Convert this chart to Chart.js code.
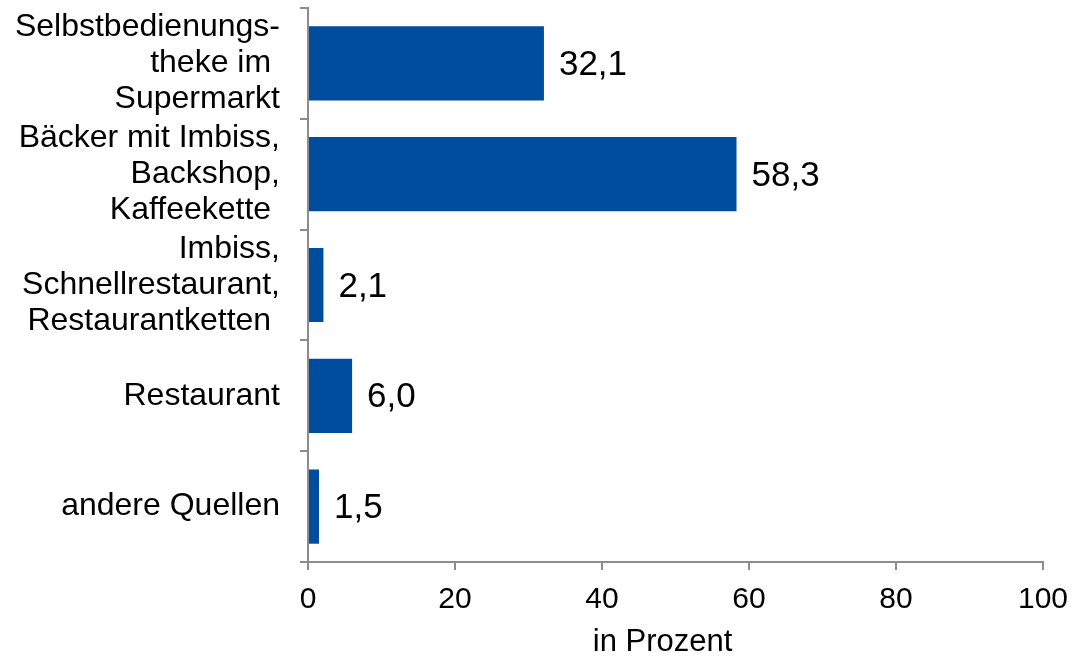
<!DOCTYPE html>
<html>
<head>
<meta charset="utf-8">
<script src="https://cdn.jsdelivr.net/npm/chart.js@4/dist/chart.umd.min.js"></script>
<style>
  html, body { margin: 0; padding: 0; background: #fff; }
  #wrap { width: 1087px; height: 656px; }
</style>
</head>
<body>
<div id="wrap"><canvas id="bezugsquellen_chart"></canvas></div>
<script>
// categories (multi-line labels) and shares in percent
const categories = [
  ['Selbstbedienungs-', 'theke im ', 'Supermarkt'],
  ['Bäcker mit Imbiss,', 'Backshop,', 'Kaffeekette '],
  ['Imbiss,', 'Schnellrestaurant,', 'Restaurantketten '],
  'Restaurant',
  'andere Quellen'
];
const anteil_prozent = [32.1, 58.3, 2.1, 6.0, 1.5];
const x_ticks = [0, 20, 40, 60, 80, 100];

const bar_color = '#004c9f';
const axis_color = '#8c8c8c';
const font_family = '"Liberation Sans", Arial, sans-serif';

// writes the value next to each bar, with a decimal comma
const value_labels = {
  id: 'value_labels',
  afterDatasetsDraw(chart) {
    const ctx = chart.ctx;
    const meta = chart.getDatasetMeta(0);
    ctx.save();
    ctx.font = '35px ' + font_family;
    ctx.fillStyle = '#000';
    ctx.textAlign = 'left';
    ctx.textBaseline = 'middle';
    meta.data.forEach((bar, i) => {
      const txt = anteil_prozent[i].toFixed(1).replace('.', ',');
      ctx.fillText(txt, bar.x + 15, bar.y + 2);
    });
    ctx.restore();
  }
};

// fixed axis sizes, labels should not push the plot area inwards
const fit_axis = size => axis => {
  axis.paddingTop = 0;
  axis.paddingBottom = 0;
  axis.paddingLeft = 0;
  axis.paddingRight = 0;
  if (axis.isHorizontal()) axis.height = size;
  else axis.width = size;
};

const ctx = document.getElementById('bezugsquellen_chart').getContext('2d');

new Chart(ctx, {
  type: 'bar',
  data: {
    labels: categories,
    datasets: [{
      data: anteil_prozent,
      backgroundColor: bar_color,
      borderWidth: 0,
      categoryPercentage: 0.67,
      barPercentage: 1.0
    }]
  },
  options: {
    indexAxis: 'y',
    responsive: true,
    maintainAspectRatio: false,
    animation: false,
    layout: { padding: { top: 8, right: 44, left: 12, bottom: 0 } },
    plugins: {
      legend: { display: false },
      tooltip: { enabled: false }
    },
    scales: {
      x: {
        type: 'linear',
        min: 0,
        max: 100,
        afterBuildTicks: axis => { axis.ticks = x_ticks.map(v => ({ value: v })); },
        afterFit: fit_axis(94),
        border: { color: axis_color, width: 2 },
        grid: { drawOnChartArea: false, drawTicks: true, tickLength: 8, color: axis_color, lineWidth: 2 },
        ticks: { color: '#000', font: { family: font_family, size: 30 }, padding: 12 },
        title: { display: true, text: 'in Prozent   ', color: '#000', font: { family: font_family, size: 31, lineHeight: 0.9 }, padding: { top: 0, bottom: 0 } }
      },
      y: {
        type: 'category',
        afterFit: fit_axis(296),
        border: { color: axis_color, width: 2 },
        grid: { offset: true, drawOnChartArea: false, drawTicks: true, tickLength: 8, color: axis_color, lineWidth: 2 },
        ticks: {
          color: '#000',
          autoSkip: false,
          font: { family: font_family, size: 32, lineHeight: 1.12 },
          padding: 20
        }
      }
    }
  },
  plugins: [value_labels]
});
</script>
</body>
</html>
